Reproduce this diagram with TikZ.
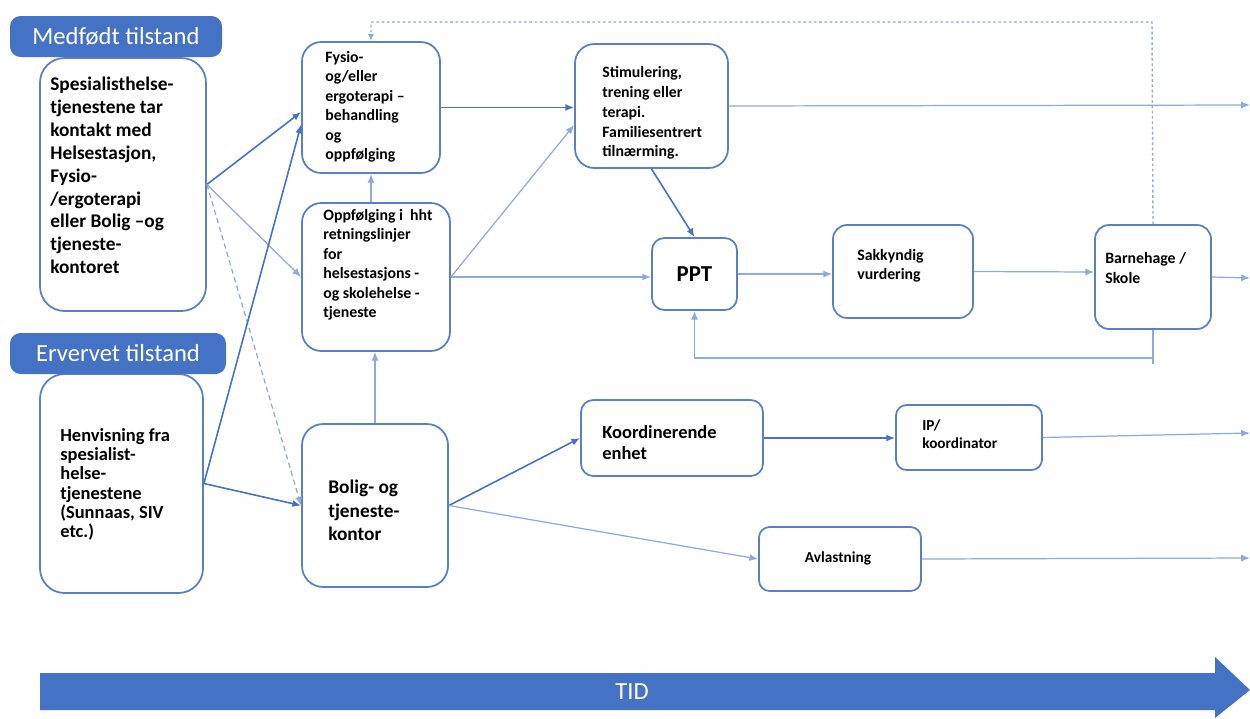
\documentclass[tikz,border=0pt]{standalone}
\usepackage{fontspec}
\setmainfont{Carlito}
\usetikzlibrary{fit,calc,arrows.meta}
\definecolor{blu}{HTML}{4472C4}
\definecolor{bord}{HTML}{5B7FC4}
\definecolor{lblu}{HTML}{8EA9DB}
\begin{document}
\begin{tikzpicture}[x=0.02cm,y=-0.02cm,
  box/.style={draw=bord, line width=1pt, inner sep=0pt, fill=white},
  hdr/.style={fill=blu, rounded corners=6pt, inner sep=0pt},
  hdrtxt/.style={inner sep=0pt, text=white, font=\fontsize{14}{16}\selectfont},
  txt/.style={inner sep=0pt, anchor=north west, align=left, text=black},
  con/.style={draw=blu, line width=0.9pt, -{Latex[length=5pt,width=4pt]}},
  thin/.style={draw=lblu, line width=0.7pt, -{Latex[length=5pt,width=4pt]}},
  dotline/.style={draw=lblu, line width=0.8pt, dash pattern=on 1.5pt off 1.5pt, -{Latex[length=4pt,width=3.5pt]}},
]
\useasboundingbox (0,0) rectangle (1250,718);

% boxes
\node[box, rounded corners=14pt, fit={(40,58) (206,311)}] (A) {};
\node[hdr, fit={(10,16) (222,57)}] (H1) {};
\node[hdrtxt] (H1t) at (H1.center) {Medfødt tilstand};
\node[txt, font=\fontsize{11}{13}\selectfont\bfseries] (At) at (50,77) {Spesialisthelse-\\tjenestene tar\\kontakt med\\Helsestasjon,\\Fysio-\\/ergoterapi\\eller Bolig –og\\tjeneste-\\kontoret};

\node[box, rounded corners=14pt, fit={(40,374) (203,593)}] (B) {};
\node[hdr, fit={(10,333) (226,374)}] (H2) {};
\node[hdrtxt] (H2t) at (H2.center) {Ervervet tilstand};
\node[txt, font=\fontsize{10.5}{11}\selectfont\bfseries] (Bt) at (60,428) {Henvisning fra\\spesialist-\\helse-\\tjenestene\\(Sunnaas, SIV\\etc.)};

\node[box, rounded corners=11pt, fit={(302,42) (440,173)}] (C) {};
\node[txt, font=\fontsize{9}{11.1}\selectfont\bfseries] (Ct) at (325,51) {Fysio-\\og/eller\\ergoterapi –\\behandling\\og\\oppfølging};

\node[box, rounded corners=11pt, fit={(302,203) (450,351)}] (D) {};
\node[txt, font=\fontsize{9}{11.1}\selectfont\bfseries] (Dt) at (323,209) {Oppfølging i~~hht\\retningslinjer\\for\\helsestasjons -\\og skolehelse -\\tjeneste};

\node[box, rounded corners=12pt, fit={(302,424) (448,587)}] (E) {};
\node[txt, font=\fontsize{11}{13.3}\selectfont\bfseries] (Et) at (328,480) {Bolig- og\\tjeneste-\\kontor};

\node[box, rounded corners=11pt, fit={(575,44) (728,168)}] (F) {};
\node[txt, font=\fontsize{9}{11.3}\selectfont\bfseries] (Ft) at (602,66) {Stimulering,\\trening eller\\terapi.\\Familiesentrert\\tilnærming.};

\node[box, rounded corners=7pt, fit={(652,238) (737,310)}] (PPT) {};
\node[inner sep=0pt, font=\fontsize{13}{15}\selectfont\bfseries] (PPTt) at (PPT.center) {PPT};

\node[box, rounded corners=8pt, fit={(833,225) (973,318)}] (Sak) {};
\node[txt, font=\fontsize{9}{10.8}\selectfont\bfseries] (Sakt) at (857,249) {Sakkyndig\\vurdering};

\node[box, rounded corners=8pt, fit={(1095,225) (1211,329)}] (Bar) {};
\node[txt, font=\fontsize{9}{11.3}\selectfont\bfseries] (Bart) at (1105,252) {Barnehage /\\Skole};

\node[box, rounded corners=7pt, fit={(581,400) (763,476)}] (Ko) {};
\node[txt, font=\fontsize{10.5}{11.9}\selectfont\bfseries] (Kot) at (602,425) {Koordinerende\\enhet};

\node[box, rounded corners=6pt, fit={(896,405) (1042,470)}] (IP) {};
\node[txt, font=\fontsize{8.7}{10.2}\selectfont\bfseries] (IPt) at (922,419) {IP/\\koordinator};

\node[box, rounded corners=6pt, fit={(759,527) (921,591)}] (Av) {};
\node[inner sep=0pt, font=\fontsize{8.7}{10}\selectfont\bfseries] (Avt) at (838,558) {Avlastning};

% right edge coordinates
\coordinate (r1) at (1250,105);
\coordinate (r2) at (1250,278);
\coordinate (r3) at (1250,433);
\coordinate (r4) at (1250,558);
\coordinate (lp) at (1152,358);
\coordinate (top) at (1152,22);

% connectors
\draw[con] (A.east) -- ($(C.west)+(0,4.5)$);
\draw[thin] (A.east) -- (D.west);
\draw[thin, dash pattern=on 3pt off 2pt] (A.east) -- (E.west);
\draw[con] (B.east) -- ($(C.west)+(0,17)$);
\draw[con] (B.east) -- (E.west);
\draw[thin] (D.north -| C.south) -- (C.south);
\draw[thin] (E.north) -- (E.north |- D.south);
\draw[con] (C.east) -- (C.east -| F.west);
\draw[thin] (D.east) -- ($(F.west)+(0,19)$);
\draw[thin] (D.east) -- (D.east -| PPT.west);
\draw[con] (F.south) -- (PPT.north);
\draw[thin] (PPT.east) -- (PPT.east -| Sak.west);
\draw[thin] (Sak.east) -- ($(Bar.west)+(0,-5)$);
\draw[thin] (Bar.east) -- (r2);
\draw[thin, -] (Bar.south) -- ($(Bar.south |- lp)+(0,6)$);
\draw[thin] (Bar.south |- lp) -| (PPT.south);
\draw[dotline] (Bar.north) -- (top) -| (C.north);
\draw[thin] (F.east) -- (r1);
\draw[con] (E.east) -- (Ko.west);
\draw[thin] (E.east) -- (Av.west);
\draw[con] (Ko.east) -- (Ko.east -| IP.west);
\draw[thin] (IP.east) -- (r3);
\draw[thin] (Av.east) -- (r4);

% time arrow
\fill[blu] (40,673) -- (1215,673) -- (1215,657) -- (1250,690) -- (1215,718) -- (1215,710) -- (40,710) -- cycle;
\node[inner sep=0pt, text=white, font=\fontsize{14}{16}\selectfont] (TID) at (632,692) {TID};
\end{tikzpicture}
\end{document}
